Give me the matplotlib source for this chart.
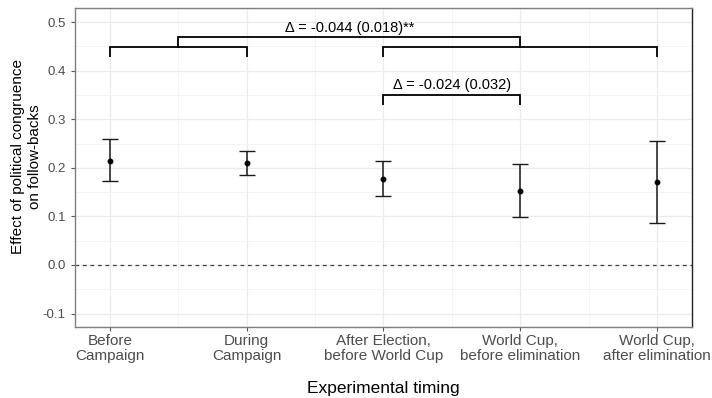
import numpy as np
import matplotlib.pyplot as plt
from matplotlib.ticker import MultipleLocator

plt.rcParams['font.family'] = ['Liberation Sans', 'DejaVu Sans']

# data
timing = ['Before\nCampaign', 'During\nCampaign', 'After Election,\nbefore World Cup',
          'World Cup,\nbefore elimination', 'World Cup,\nafter elimination']
estimate = [0.215, 0.210, 0.177, 0.153, 0.171]
ci_low = [0.172, 0.185, 0.142, 0.098, 0.087]
ci_high = [0.259, 0.234, 0.213, 0.208, 0.255]

delta_main = 'Δ = -0.044 (0.018)**'
delta_wc = 'Δ = -0.024 (0.032)'

x = np.arange(1, len(timing) + 1)
est = np.array(estimate)
lo = est - np.array(ci_low)
hi = np.array(ci_high) - est

fig = plt.figure(figsize=(7.12, 3.98), dpi=100)
ax = fig.add_axes([0.105, 0.178, 0.867, 0.802])

ax.set_xlim(0.744, 5.256)
ax.set_ylim(-0.128, 0.529)

# grid
ax.yaxis.set_major_locator(MultipleLocator(0.1))
ax.yaxis.set_minor_locator(MultipleLocator(0.05))
ax.set_xticks(x)
ax.set_xticks(x[:-1] + 0.5, minor=True)
ax.grid(which='major', color='#ebebeb', lw=0.9, zorder=0)
ax.grid(which='minor', color='#f3f3f3', lw=0.6, zorder=0)
ax.tick_params(which='minor', length=0)
ax.tick_params(which='major', length=3, color='#555555', width=0.8,
               labelcolor='#4d4d4d')
ax.tick_params(axis='y', labelsize=9.5)
ax.tick_params(axis='x', labelsize=11, pad=2)
ax.set_axisbelow(True)

ax.set_xticklabels(timing, linespacing=1.05)
ax.yaxis.set_major_formatter(plt.FuncFormatter(lambda v, p: f'{v:.1f}'))

ax.axhline(0, color='#444444', lw=0.9, ls=(0, (3, 3)), zorder=1)

ax.errorbar(x, est, yerr=[lo, hi], fmt='o', color='black', ms=3.2,
            ecolor='#1a1a1a', elinewidth=1.1, capsize=6, capthick=1.0, zorder=3)

# brackets
def bracket(x0, x1, y, drop=0.02, lw=1.3):
    ax.plot([x0, x0, x1, x1], [y - drop, y, y, y - drop], color='black',
            lw=lw, solid_capstyle='butt', solid_joinstyle='miter', zorder=2)

bracket(1, 2, 0.449)
bracket(3, 5, 0.449)
ax.plot([1.5, 1.5, 4.0, 4.0], [0.449, 0.470, 0.470, 0.449], color='black',
        lw=1.3, solid_joinstyle='miter', zorder=2)
ax.text(2.75, 0.474, delta_main, ha='center', va='bottom', fontsize=10.5)

bracket(3, 4, 0.350)
ax.text(3.5, 0.355, delta_wc, ha='center', va='bottom', fontsize=10.5)

for side in ['top', 'left', 'bottom']:
    ax.spines[side].set_color('#7f7f7f')
    ax.spines[side].set_linewidth(1.0)
ax.spines['right'].set_color('#222222')
ax.spines['right'].set_linewidth(1.0)

fig.text(0.539, 1 - 393 / 398, 'Experimental timing', ha='center', va='baseline',
         fontsize=12.5)
fig.text(0.037, 0.607, 'Effect of political congruence\non follow-backs',
         rotation=90, ha='center', va='center', fontsize=11, linespacing=1.3)

fig.savefig('out.png', dpi=100)
